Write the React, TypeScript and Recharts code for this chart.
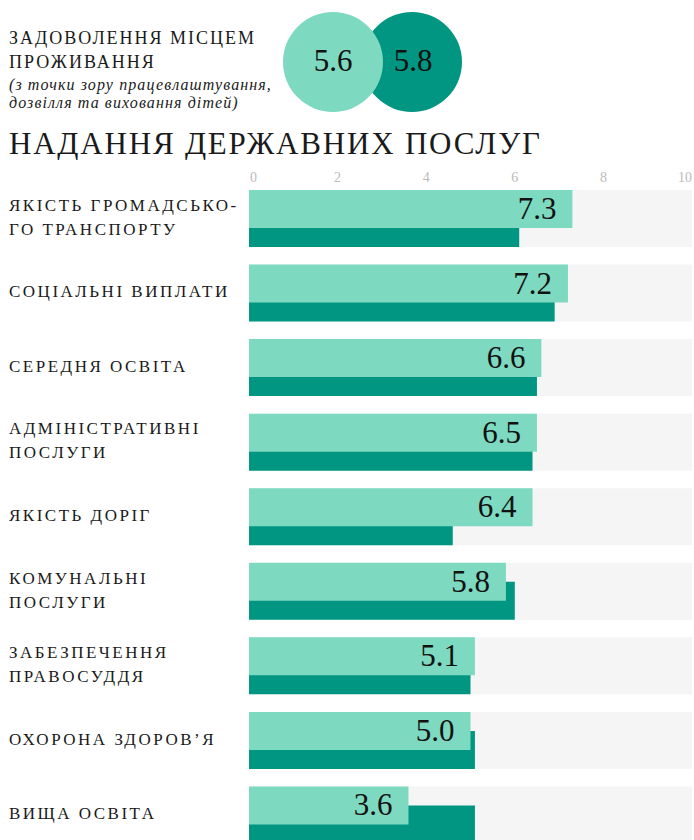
import React from "react";
import { BarChart, Bar, XAxis, YAxis, LabelList } from "recharts";

// Оцінки за категоріями державних послуг
const CATEGORIES = [
  "ЯКІСТЬ ГРОМАДСЬКО-\nГО ТРАНСПОРТУ",
  "СОЦІАЛЬНІ ВИПЛАТИ",
  "СЕРЕДНЯ ОСВІТА",
  "АДМІНІСТРАТИВНІ\nПОСЛУГИ",
  "ЯКІСТЬ ДОРІГ",
  "КОМУНАЛЬНІ\nПОСЛУГИ",
  "ЗАБЕЗПЕЧЕННЯ\nПРАВОСУДДЯ",
  "ОХОРОНА ЗДОРОВ’Я",
  "ВИЩА ОСВІТА",
];
const SCORES = [7.3, 7.2, 6.6, 6.5, 6.4, 5.8, 5.1, 5.0, 3.6];
const COMPARE = [6.1, 6.9, 6.5, 6.4, 4.6, 6.0, 5.0, 5.1, 5.1];
const X_TICKS = [0, 2, 4, 6, 8, 10];

// Загальна задоволеність (два кола зверху)
const OVERALL = [5.6, 5.8];
const HEADER_LINES = ["ЗАДОВОЛЕННЯ МІСЦЕМ", "ПРОЖИВАННЯ"];
const HEADER_NOTE = ["(з точки зору працевлаштування,", "дозвілля та виховання дітей)"];
const TITLE = "НАДАННЯ ДЕРЖАВНИХ ПОСЛУГ";

const LIGHT = "#7dd9bf";
const DARK = "#009682";
const BG = "#f5f5f5";
const FONT = "'Liberation Serif', serif";

const data = CATEGORIES.map((name, i) => ({
  name,
  score: SCORES[i],
  compare: COMPARE[i],
}));

function XTick(props: any) {
  const { x, y, payload, index } = props;
  const last = index === X_TICKS.length - 1;
  const anchor = index === 0 ? "start" : last ? "end" : "middle";
  return (
    <text
      x={index === 0 ? x + 1 : x}
      y={y + 1}
      textAnchor={anchor}
      fontSize={14}
      fontFamily={FONT}
      fill="#bbbbbb"
    >
      {payload.value}
    </text>
  );
}

function YTick(props: any) {
  const { y, payload } = props;
  const lines = String(payload.value).split("\n");
  return (
    <text x={9} fontSize={17} fontFamily={FONT} fill="#1a1a1a" letterSpacing={2.5}>
      {lines.map((l, i) => (
        <tspan key={i} x={9} y={y + 4.5 + (i - (lines.length - 1) / 2) * 24}>
          {l}
        </tspan>
      ))}
    </text>
  );
}

function ValueLabel(props: any) {
  const { x, y, width, height, value } = props;
  return (
    <text
      x={x + width - 16}
      y={y + height / 2 + 10}
      textAnchor="end"
      fontSize={31}
      fontFamily={FONT}
      fill="#111"
    >
      {Number(value).toFixed(1)}
    </text>
  );
}

// сірий фон тягнеться до верху світлої смуги
function RowBackground(props: any) {
  const { x, y, width, height } = props;
  return <rect x={x} y={y - 19} width={width} height={height + 19} fill={BG} />;
}

function Header() {
  return (
    <svg width={694} height={160} style={{ display: "block" }}>
      <text fontFamily={FONT} fontSize={18} letterSpacing={2} fill="#1a1a1a">
        <tspan x={9} y={44}>{HEADER_LINES[0]}</tspan>
        <tspan x={9} y={68}>{HEADER_LINES[1]}</tspan>
      </text>
      <text fontFamily={FONT} fontSize={16} fontStyle="italic" letterSpacing={1.1} fill="#1a1a1a">
        <tspan x={9} y={89.5}>{HEADER_NOTE[0]}</tspan>
        <tspan x={9} y={107.5}>{HEADER_NOTE[1]}</tspan>
      </text>
      <circle cx={412} cy={62} r={50} fill={DARK} />
      <circle cx={333} cy={62} r={50} fill={LIGHT} />
      <text x={333} y={71} textAnchor="middle" fontFamily={FONT} fontSize={31} fill="#111">
        {OVERALL[0].toFixed(1)}
      </text>
      <text x={413} y={71} textAnchor="middle" fontFamily={FONT} fontSize={31} fill="#111">
        {OVERALL[1].toFixed(1)}
      </text>
      <text x={9} y={154} fontFamily={FONT} fontSize={31} letterSpacing={1.8} fill="#1a1a1a">
        {TITLE}
      </text>
    </svg>
  );
}

export default function App() {
  return (
    <div
      style={{
        position: "fixed",
        left: 0,
        top: 0,
        width: 694,
        height: 840,
        overflow: "hidden",
        background: "#fff",
      }}
    >
      <Header />
      <BarChart
        layout="vertical"
        width={694}
        height={692}
        data={data}
        margin={{ top: 0, right: 2, bottom: 0, left: 0 }}
        barSize={38}
        barGap={-57}
      >
        <XAxis
          type="number"
          domain={[0, 10]}
          ticks={X_TICKS}
          orientation="top"
          height={21}
          axisLine={false}
          tickLine={false}
          tickSize={0}
          tickMargin={0}
          interval={0}
          tick={<XTick />}
        />
        <YAxis
          type="category"
          dataKey="name"
          width={249}
          axisLine={false}
          tickLine={false}
          interval={0}
          tick={<YTick />}
        />
        <Bar
          dataKey="compare"
          fill={DARK}
          background={(p: any) => <RowBackground key={p.index} {...p} />}
          isAnimationActive={false}
        />
        <Bar dataKey="score" fill={LIGHT} isAnimationActive={false}>
          <LabelList dataKey="score" content={<ValueLabel />} />
        </Bar>
      </BarChart>
    </div>
  );
}
